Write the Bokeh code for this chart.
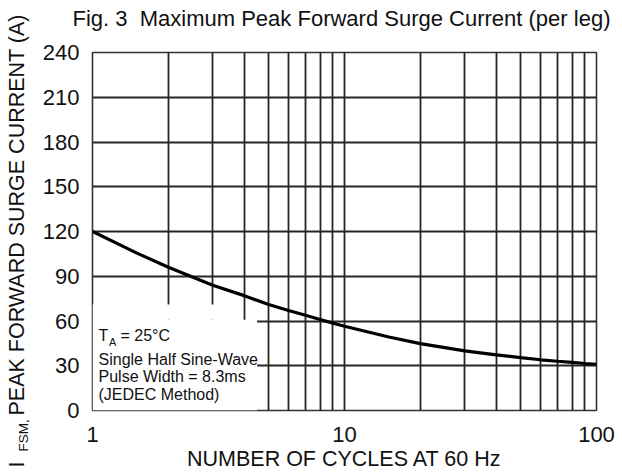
import math
from bokeh.plotting import figure
from bokeh.models import FixedTicker, Label, Range1d, PrintfTickFormatter
from bokeh.core.properties import value
from bokeh.embed import file_html
from bokeh.resources import INLINE

# ---- data ----
cycles = [1, 1.5, 2, 3, 4, 5, 6, 7, 8, 9, 10, 15, 20, 30, 40, 50, 60, 70, 80, 90, 100]
current = [120, 105.5, 96, 84, 77, 71, 67, 63.8, 61, 58.6, 56.5, 49.3, 44.8, 40, 37.3,
           35.4, 34, 33, 32.2, 31.5, 31]

x_major_ticks = [1, 10, 100]
x_minor_ticks = [2, 3, 4, 5, 6, 7, 8, 9, 20, 30, 40, 50, 60, 70, 80, 90]
y_ticks = [0, 30, 60, 90, 120, 150, 180, 210, 240]

title_text = "Fig. 3\u00a0 Maximum Peak Forward Surge Current (per leg)"
x_label = "NUMBER OF CYCLES AT 60 Hz"
y_label_main = " PEAK FORWARD SURGE CURRENT (A)"
note_lines = ["Single Half Sine-Wave", "Pulse Width = 8.3ms", "(JEDEC Method)"]

FONT = "Liberation Sans"
INK = "#111111"
GRID = "#262626"
FW, FH = 504, 361   # frame size in px

p = figure(width=622, height=473, x_axis_type="log",
           x_range=Range1d(1, 100), y_range=Range1d(0, 240),
           output_backend="svg", toolbar_location=None,
           min_border_left=92, min_border_right=26,
           min_border_top=52, min_border_bottom=60)
# pixel ranges spanning the frame, for free-placed texts
p.extra_x_ranges = {"px": Range1d(0, FW)}
p.extra_y_ranges = {"px": Range1d(0, FH)}

p.background_fill_color = "white"
p.border_fill_color = "white"
p.outline_line_color = "#333333"
p.outline_line_width = 1.6

# axes
p.xaxis.ticker = FixedTicker(ticks=x_major_ticks, minor_ticks=x_minor_ticks)
p.xaxis.formatter = PrintfTickFormatter(format="%d")
p.yaxis.ticker = FixedTicker(ticks=y_ticks)
for ax in (p.xaxis, p.yaxis):
    ax.axis_line_color = None
    ax.major_tick_line_color = None
    ax.minor_tick_line_color = None
    ax.major_tick_out = 0
    ax.minor_tick_out = 0
    ax.major_label_text_font = FONT
    ax.major_label_text_font_size = "22px"
    ax.major_label_text_color = INK
p.xaxis.major_label_standoff = 16
p.yaxis.major_label_standoff = 13
p.xaxis.axis_label = x_label
p.xaxis.axis_label_text_font = FONT
p.xaxis.axis_label_text_font_size = "21.5px"
p.xaxis.axis_label_text_font_style = "normal"
p.xaxis.axis_label_text_color = INK
p.xaxis.axis_label_standoff = 2

# grid
p.xgrid.grid_line_color = GRID
p.xgrid.grid_line_width = 1.8
p.xgrid.minor_grid_line_color = GRID
p.xgrid.minor_grid_line_width = 1.8
p.ygrid.grid_line_color = GRID
p.ygrid.grid_line_width = 1.8

# white box behind the note
p.quad(left=[1, 1], right=[3.6, 4.5], bottom=[60.8, 0], top=[71, 60.8],
       fill_color="white", line_color=None)

# curve
p.line(cycles, current, line_color="black", line_width=3.2)

# texts outside the frame: anchored just inside the frame and shifted out
def otext(t, ax, ay, dx, dy, size, angle=0.0, baseline="alphabetic"):
    p.text(x=[ax], y=[ay], text=[t], angle=angle,
           x_offset=dx, y_offset=dy,
           x_range_name="px", y_range_name="px", level="overlay",
           text_font=value(FONT), text_font_size=value(size), text_color=INK,
           text_align="left", text_baseline=baseline)

# title
otext(title_text, 1, FH - 1, -20, -35, "22px", baseline="middle")
# y axis label  I_FSM, PEAK ...
otext("I", 1, 1, -76, 58, "21.5px", angle=math.pi / 2)
otext("FSM,", 1, 1, -69, 42, "13.5px", angle=math.pi / 2)
otext(y_label_main, 1, 1, -76, 6, "21.5px", angle=math.pi / 2)

# note inside the frame
def lab(text, x, y, size):
    p.add_layout(Label(x=x, y=y, x_units="screen", y_units="screen", text=text,
                       text_font=FONT, text_font_size=size, text_color=INK,
                       text_align="left", text_baseline="middle"))

lab("T", 6, 75, "16px")
lab("A", 16.5, 68.5, "11px")
lab("= 25\u00b0C", 28, 75, "16px")
for i, t in enumerate(note_lines):
    lab(t, 6, 51.5 - i * 17.5, "16px")

open("out.html", "w").write(file_html(p, INLINE))
